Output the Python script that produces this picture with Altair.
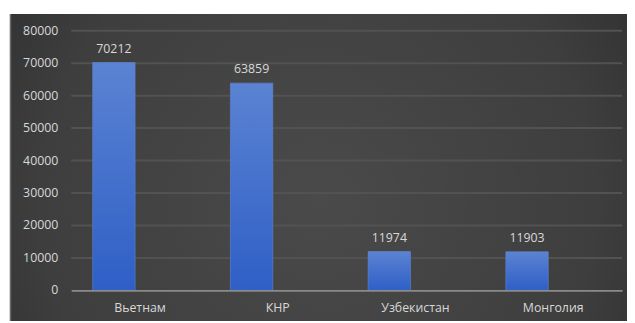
import altair as alt
import pandas as pd

countries = ["Вьетнам", "КНР", "Узбекистан", "Монголия"]
values = [70212, 63859, 11974, 11903]
y_ticks = [0, 10000, 20000, 30000, 40000, 50000, 60000, 70000, 80000]

df = pd.DataFrame({"country": countries, "value": values})
grid_df = pd.DataFrame({"value": y_ticks[1:]})
tick_df = pd.DataFrame({"value": y_ticks})

W, H = 558, 263
PAD = {"left": 64, "top": 21, "right": 5, "bottom": 31}

bg_grad = {
    "gradient": "radial",
    "x1": 0.5, "y1": 0.55, "r1": 0.0,
    "x2": 0.5, "y2": 0.55, "r2": 0.75,
    "stops": [
        {"offset": 0.0, "color": "#4a4a4a"},
        {"offset": 0.6, "color": "#3e3e3e"},
        {"offset": 1.0, "color": "#272727"},
    ],
}

bar_grad = {
    "gradient": "linear",
    "x1": 0, "y1": 0, "x2": 0, "y2": 1,
    "stops": [
        {"offset": 0.0, "color": "#5b83d3"},
        {"offset": 1.0, "color": "#2f5fc6"},
    ],
}

y_scale = alt.Scale(domain=[0, 80000])
y_axis = alt.Axis(labels=False, ticks=False, domain=False, grid=False)
y_enc = alt.Y("value:Q", title=None, scale=y_scale, axis=y_axis)

bg = alt.Chart(alt.Data(values=[{"a": 1}])).mark_rect(
    fill=bg_grad, clip=False
).encode(
    x=alt.value(-62), x2=alt.value(W + PAD["right"]),
    y=alt.value(-17), y2=alt.value(H + PAD["bottom"]),
)

edge = alt.Chart(alt.Data(values=[{"a": 1}])).mark_rule(
    color="#6a6a6a", strokeWidth=1.5, clip=False
).encode(
    x=alt.value(-61.5), y=alt.value(-17), y2=alt.value(H + PAD["bottom"]),
)

grid = alt.Chart(grid_df).mark_rule(color="#525252", strokeWidth=2).encode(
    y=y_enc
)

y_labels = alt.Chart(tick_df).mark_text(
    align="right", baseline="middle", fontSize=12.5, font="Open Sans",
    color="#d8d8d8", clip=False
).encode(
    x=alt.value(-13), y=y_enc, text=alt.Text("value:Q", format="d")
)

x_enc = alt.X(
    "country:N", sort=countries, title=None,
    scale=alt.Scale(paddingInner=0.692, paddingOuter=0.346),
    axis=alt.Axis(labelAngle=0, ticks=False, domain=True, domainColor="#8a8a8a",
                  domainWidth=2, labelPadding=11, labelFontSize=12.5,
                  labelColor="#d8d8d8", labelFont="Open Sans", grid=False,
                  zindex=1),
)

bars = alt.Chart(df).mark_bar(fill=bar_grad, xOffset=-26.5, stroke="#5f86d4",
                               strokeWidth=0.6).encode(x=x_enc, y=y_enc)

labels = alt.Chart(df).mark_text(
    xOffset=-26.5, dy=-10, baseline="alphabetic", fontSize=12.5,
    font="Open Sans", color="#d8d8d8"
).encode(x=x_enc, y=y_enc, text="value:Q")

chart = alt.layer(bg, edge, grid, y_labels, bars, labels).properties(
    width=W, height=H, padding=PAD, autosize=alt.AutoSizeParams(type="none"),
    background="white",
).configure_view(strokeWidth=0)

chart.save("out.html", embed_options={"renderer": "svg", "actions": False})
